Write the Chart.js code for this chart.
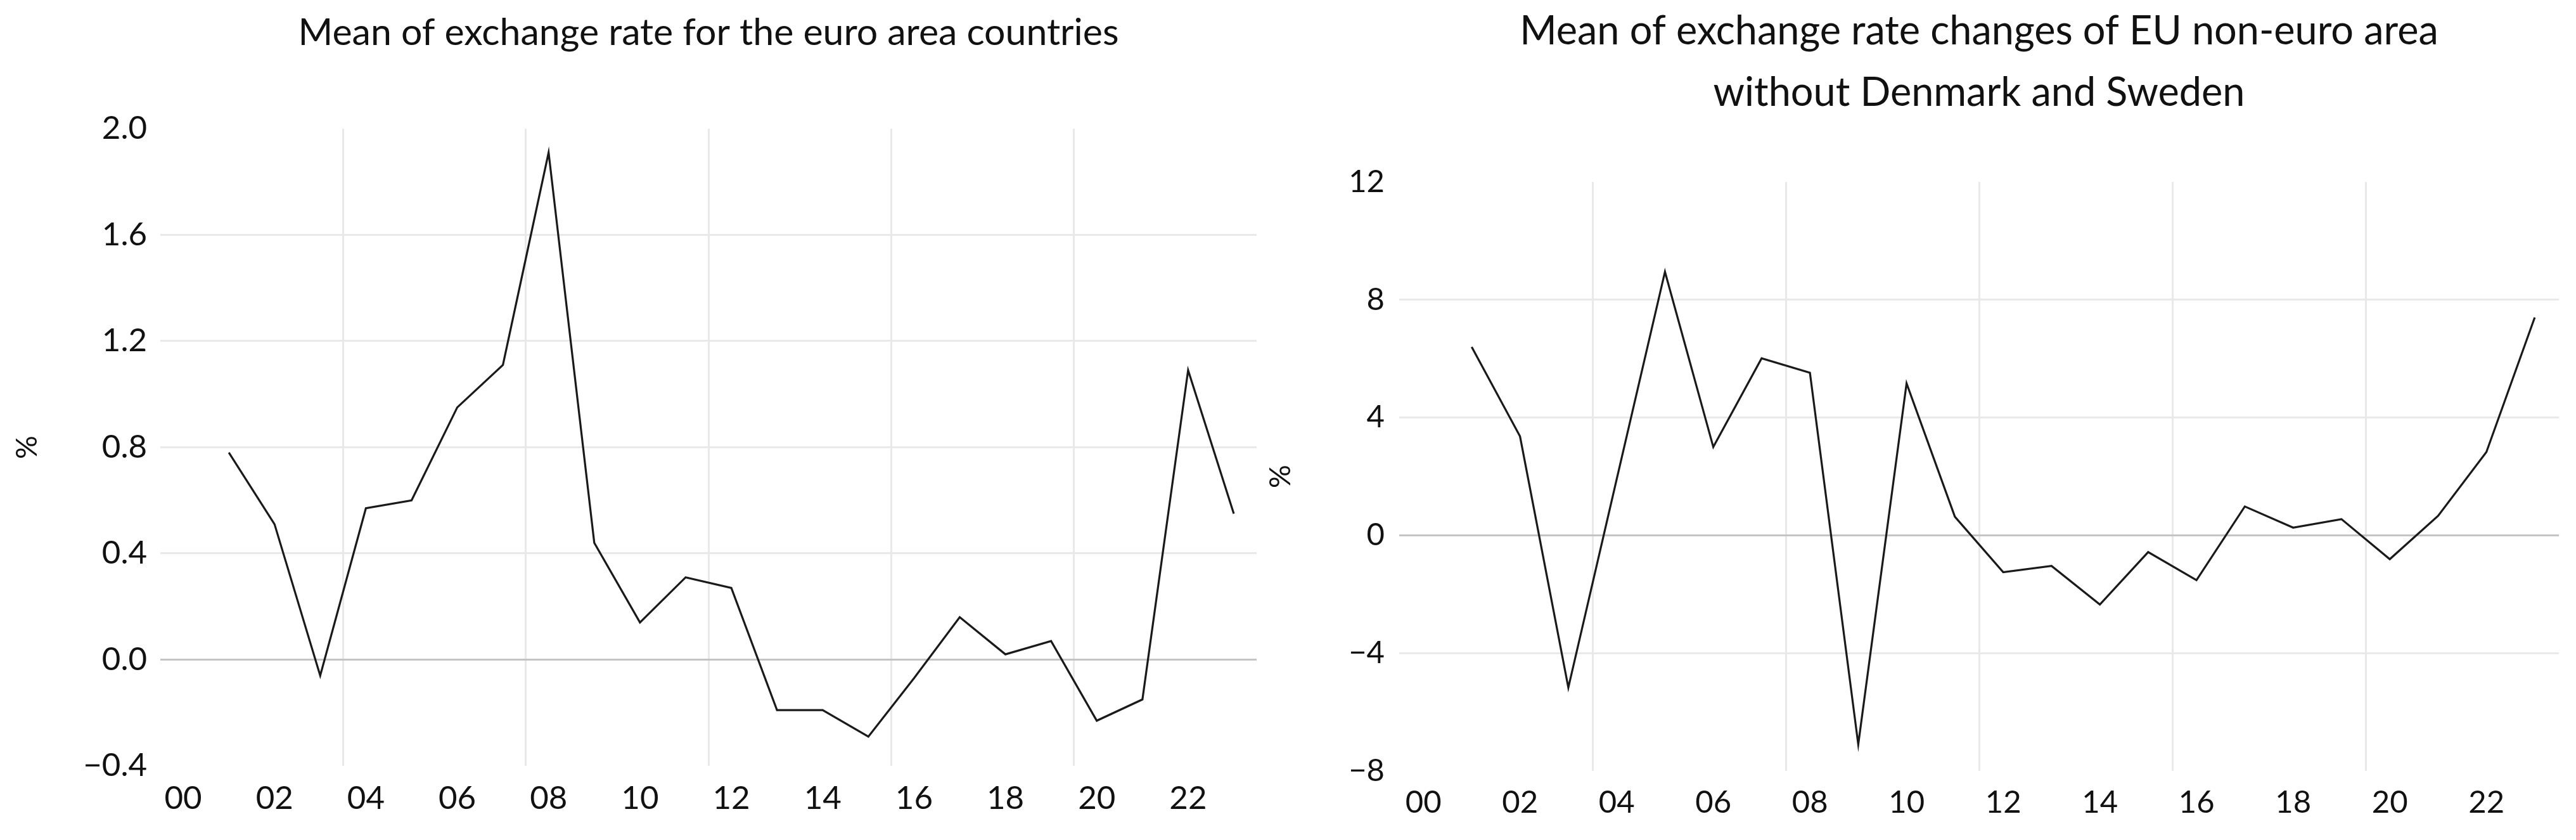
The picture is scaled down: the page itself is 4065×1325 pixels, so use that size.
<!DOCTYPE html>
<html>
<head>
<meta charset="utf-8">
<script src="https://cdn.jsdelivr.net/npm/chart.js@4/dist/chart.umd.min.js"></script>
<style>
  html, body { margin: 0; padding: 0; background: #ffffff; overflow: hidden; }
  body { width: 4065px; height: 1325px; position: relative; }
  .box { position: absolute; top: 0; height: 1325px; }
  #boxL { left: 0px; width: 1990px; }
  #boxR { left: 1990px; width: 2075px; }
</style>
</head>
<body>
<div class="box" id="boxL"><canvas id="chartL"></canvas></div>
<div class="box" id="boxR"><canvas id="chartR"></canvas></div>
<script>
// ---- data ----
const years = ['00','01','02','03','04','05','06','07','08','09','10','11','12','13','14','15','16','17','18','19','20','21','22','23'];
const euroAreaMean = [null, 0.78, 0.51, -0.06, 0.57, 0.60, 0.95, 1.11, 1.91, 0.44, 0.14, 0.31, 0.27, -0.19, -0.19, -0.29, -0.07, 0.16, 0.02, 0.07, -0.23, -0.15, 1.09, 0.55];
const nonEuroMean = [null, 6.40, 3.36, -5.17, 1.90, 8.95, 3.00, 6.01, 5.52, -7.10, 5.16, 0.63, -1.25, -1.04, -2.35, -0.57, -1.52, 0.98, 0.26, 0.55, -0.81, 0.66, 2.83, 7.40];
const titleL = 'Mean of exchange rate for the euro area countries';
const titleR = ['Mean of exchange rate changes of EU non-euro area', 'without Denmark and Sweden'];
const yTitle = '%';
const yRangeL = { min: -0.4, max: 2.0, step: 0.4, decimals: 1 };
const yRangeR = { min: -8, max: 12, step: 4, decimals: 0 };

// ---- styling ----
const FONT = 'Lato, "Open Sans", "Noto Sans", sans-serif';
Chart.defaults.font.family = FONT;
Chart.defaults.color = '#111111';
const GRID = '#e9e9e9';
const ZERO = '#c4c4c4';

function fmt(v, d) {
  if (Math.abs(v) < 1e-9) v = 0;
  const s = Math.abs(v).toFixed(d);
  return v < 0 ? '\u2212' + s : s;
}

function makeChart(id, values, title, range, cfg) {
  return new Chart(document.getElementById(id), {
    type: 'line',
    data: {
      labels: years,
      datasets: [{
        data: values,
        borderColor: '#1a1a1a',
        borderWidth: 3.2,
        pointRadius: 0,
        pointHoverRadius: 0,
        tension: 0,
        spanGaps: false,
        fill: false
      }]
    },
    options: {
      responsive: true,
      maintainAspectRatio: false,
      devicePixelRatio: 1,
      animation: false,
      events: [],
      layout: { padding: { left: 0, right: cfg.padRight, top: 0, bottom: 0 } },
      plugins: {
        legend: { display: false },
        tooltip: { enabled: false },
        title: {
          display: true,
          fullSize: false,
          text: title,
          align: 'center',
          color: '#111111',
          font: { size: cfg.titleSize, weight: 'normal', lineHeight: cfg.titleLH },
          padding: { top: cfg.titlePadTop, bottom: cfg.titlePadBottom }
        }
      },
      scales: {
        x: {
          type: 'category',
          offset: true,
          border: { display: false },
          grid: {
            offset: true,
            drawTicks: false,
            lineWidth: 3,
            color: (ctx) => (ctx.type === 'tick' && ctx.index > 0 && ctx.index % 4 === 0) ? GRID : 'rgba(0,0,0,0)'
          },
          ticks: {
            autoSkip: false,
            maxRotation: 0,
            minRotation: 0,
            padding: cfg.xPad,
            font: { size: cfg.xTickSize },
            callback: (val, idx) => (idx % 2 === 0 ? years[idx] : '')
          },
          afterFit: (s) => { s.height = cfg.xHeight; }
        },
        y: {
          min: range.min,
          max: range.max,
          border: { display: false },
          grid: {
            drawTicks: false,
            lineWidth: 3,
            color: (ctx) => {
              const v = ctx.tick ? ctx.tick.value : null;
              if (v === null) return 'rgba(0,0,0,0)';
              if (Math.abs(v) < 1e-9) return ZERO;
              if (Math.abs(v - range.min) < 1e-9 || Math.abs(v - range.max) < 1e-9) return 'rgba(0,0,0,0)';
              return GRID;
            }
          },
          ticks: {
            stepSize: range.step,
            padding: cfg.yPad,
            font: { size: cfg.yTickSize },
            callback: (v) => fmt(v, range.decimals)
          },
          title: {
            display: true,
            text: yTitle,
            color: '#111111',
            font: { size: 46 },
            padding: { top: cfg.yTitlePad, bottom: 0 }
          },
          afterFit: (s) => { s.width = cfg.yWidth; }
        }
      }
    }
  });
}

makeChart('chartL', euroAreaMean, titleL, yRangeL, {
  padRight: 7, titleSize: 59, titleLH: 1.2, titlePadTop: 16.6, titlePadBottom: 115.5,
  xPad: 21, xHeight: 117, yPad: 21, yWidth: 253, yTitlePad: 16, xTickSize: 51, yTickSize: 51
});
makeChart('chartR', nonEuroMean, titleR, yRangeR, {
  padRight: 27, titleSize: 63, titleLH: 1.54, titlePadTop: 1.5, titlePadBottom: 91.5,
  xPad: 21, xHeight: 109, yPad: 23, yWidth: 218, yTitlePad: 4, xTickSize: 49, yTickSize: 49
});
</script>
</body>
</html>
